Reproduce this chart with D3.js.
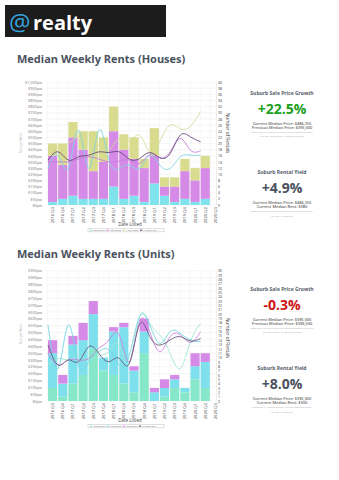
<!DOCTYPE html>
<html><head><meta charset="utf-8">
<script src="https://cdn.jsdelivr.net/npm/d3@7/dist/d3.min.js"></script>
<style>body{margin:0;background:#fff;}svg{display:block;font-family:"Open Sans",sans-serif;}</style>
</head><body><svg id="c" width="339" height="480"></svg>
<script>
// ---------- DATA ----------
const quarters = ["2016 Q3","2016 Q4","2017 Q1","2017 Q2","2017 Q3","2017 Q4","2018 Q1","2018 Q2","2018 Q3","2018 Q4","2019 Q1","2019 Q2","2019 Q3","2019 Q4","2020 Q1","2020 Q2","2020 Q3"];
const rentTicksHouses = d3.range(0, 1001, 50);
const countTicksHouses = d3.range(0, 41, 2);
const rentTicksUnits = d3.range(0, 951, 50);
const countTicksUnits = d3.range(0, 31, 1);

// Houses: rentals counted per bedroom group (bars, right axis)
const house2Bed = [1,2,3,2,2,2,6,2,3,1,7,3,1,2,1,2];
const house3Bed = [15,11,19,16,9,12,18,16,12,11,9,3,5,9,7,10];
const house4Bed = [4,7,5,6,13,8,8,5,7,3,9,3,3,4,4,4];
// Houses: median weekly rent lines (left axis)
const houseRent2Bed = [297,405,297,608,297,608,365,297,324,297,405,324,297,392,405,405];
const houseRent3Bed = [351,351,351,373,392,373,351,357,365,338,411,384,432,541,446,441];
const houseRent4Bed = [440,470,500,560,568,480,446,541,520,568,432,520,649,620,640,760];
const houseRentAll  = [365,432,365,392,405,432,427,432,373,378,427,384,419,568,554,514];

// Units
const unit1Bed = [3,1,4,6,12,7,6,4,2,11,0,1,3,2,5,3];
const unit2Bed = [8,3,9,8,8,3,10,13,5,5,2,2,2,1,3,6];
const unit3Bed = [3,2,2,4,3,0,1,1,1,3,1,2,1,0,3,2];
const unitRent1Bed = [262,311,300,330,300,330,360,408,275,615,566,480,347,238,433,566];
const unitRent2Bed = [554,238,554,262,287,360,372,262,335,615,554,420,505,493,445,433];
const unitRent3Bed = [347,262,299,299,311,384,445,481,287,578,505,360,469,481,428,505];
const unitRentAll  = [408,262,299,287,396,347,287,311,275,560,470,408,445,469,437,457];

const houseKeys = ["2 Bed","3 Bed","4+ Bed"];
const unitKeys = ["1 Bed","2 Bed","3 Bed"];

// ---------- DRAW ----------
const svg = d3.select("#c");
// header
svg.append("rect").attr("x",5).attr("y",5).attr("width",161).attr("height",32).attr("fill","#1c1c1c");
svg.append("text").attr("x",9).attr("y",31).attr("font-size",24).attr("fill","#35a2dc").text("@");
svg.append("text").attr("x",33).attr("y",30).attr("font-size",20).attr("font-weight","bold").attr("fill","#fff").text("realty");

function drawChart(o){
  const g = svg.append("g");
  g.append("text").attr("x",17).attr("y",o.titleY).attr("font-size",11).attr("font-weight","bold")
    .attr("fill","#4a5260").text(o.title);
  const x = d3.scaleBand().domain(quarters).range([47.5,220.5]).paddingInner(0.1).paddingOuter(0.05);
  const plotR = 216;
  const y = d3.scaleLinear().domain([0,o.rentMax]).range([o.bottom,o.top]);
  const yc = d3.scaleLinear().domain([0,o.countMax]).range([o.bottom,o.top]);
  // grid
  g.append("g").selectAll("line").data(o.rentTicks).join("line")
    .attr("x1",46).attr("x2",plotR).attr("y1",d=>y(d)).attr("y2",d=>y(d)).attr("stroke","#ececec").attr("stroke-width",0.5);
  g.append("g").selectAll("line").data(quarters).join("line")
    .attr("x1",d=>x(d)-0.5).attr("x2",d=>x(d)-0.5).attr("y1",o.top).attr("y2",o.bottom).attr("stroke","#f0f0f0").attr("stroke-width",0.5);
  // left axis
  const la = g.append("g").attr("transform",`translate(45,0)`)
    .call(d3.axisLeft(y).tickValues(o.rentTicks).tickSize(0).tickFormat(d=>"$"+d3.format(",")(d)+"pw"));
  la.select(".domain").remove();
  la.selectAll("text").attr("font-size",3.8).attr("fill","#777").attr("font-family","Open Sans");
  g.append("text").attr("transform",`translate(22,${o.leftTitleY}) rotate(-90)`).attr("text-anchor","middle")
    .attr("font-size",3).attr("fill","#bbb").text("Rent per Week");
  // right axis
  const ra = g.append("g").attr("transform",`translate(${plotR},0)`)
    .call(d3.axisRight(yc).tickValues(o.countTicks).tickSize(0).tickPadding(2).tickFormat(d3.format("d")));
  ra.select(".domain").attr("stroke","#ddd").attr("stroke-width",0.5);
  ra.selectAll("text").attr("font-size",3.5).attr("fill","#333").attr("font-family","Open Sans");
  g.append("text").attr("transform",`translate(225.5,${o.rightTitleY}) rotate(90)`).attr("text-anchor","middle")
    .attr("font-size",4.6).attr("fill","#333").text("Number of Rentals");
  // bars
  const rows = o.bars[0].map((_,i)=>{const r={q:quarters[i]}; o.keys.forEach((k,j)=>r[k]=o.bars[j][i]); return r;});
  const stack = d3.stack().keys(o.keys)(rows);
  stack.forEach((s,j)=>{
    g.append("g").selectAll("rect").data(s).join("rect")
      .attr("x",d=>x(d.data.q)).attr("width",x.bandwidth())
      .attr("y",d=>yc(d[1])).attr("height",d=>yc(d[0])-yc(d[1]))
      .attr("fill",o.barColors[j]);
  });
  // lines
  const line = d3.line().x((d,i)=>x(quarters[i])).y(d=>y(d)).curve(d3.curveNatural);
  o.lines.forEach((l,j)=>{
    g.append("path").datum(l).attr("d",line).attr("fill","none").attr("stroke",o.lineColors[j]).attr("stroke-width",0.9);
  });
  // x axis
  const xa = g.append("g").attr("transform",`translate(0,${o.bottom})`).call(d3.axisBottom(x).tickSize(0));
  xa.select(".domain").remove();
  xa.selectAll("text").attr("font-size",4.2).attr("fill","#444").attr("font-family","Open Sans")
    .attr("text-anchor","end").attr("transform","rotate(-90)").attr("x",-2).attr("y",0).attr("dy","0.35em");
  g.append("text").attr("x",130).attr("y",o.bottom+20.5).attr("text-anchor","middle").attr("font-size",4.5).attr("fill","#444").text("Date Listed");
  // legend
  const lg = g.append("g").attr("transform",`translate(88,${o.bottom+23.5})`);
  lg.append("rect").attr("width",76).attr("height",3.4).attr("fill","#fff").attr("stroke","#999").attr("stroke-width",0.3);
  let lx = 2;
  o.legendItems.forEach(it=>{
    lg.append("rect").attr("x",lx).attr("y",1.1).attr("width",2.2).attr("height",1.2).attr("fill",it.c);
    lx += 2.8;
    const t = lg.append("text").attr("x",lx).attr("y",2.5).attr("font-size",1.9).attr("fill","#666").text(it.t);
    lx += t.node().getComputedTextLength()+1.5;
  });
  // side panel
  const p = g.append("g").attr("text-anchor","middle");
  const cx = 282, b = o.panelY;
  p.append("text").attr("x",cx).attr("y",b).attr("font-size",5).attr("font-weight","bold").attr("fill","#555d6b").text("Suburb Sale Price Growth");
  p.append("text").attr("x",cx).attr("y",b+19).attr("font-size",14).attr("font-weight","bold").attr("fill",o.growthColor).text(o.growth);
  p.append("text").attr("x",cx).attr("y",b+29.8).attr("font-size",3.9).attr("font-weight","600").attr("fill","#666").text(o.cur);
  p.append("text").attr("x",cx).attr("y",b+34.2).attr("font-size",3.9).attr("font-weight","600").attr("fill","#666").text(o.prev);
  p.append("text").attr("x",cx).attr("y",b+38.2).attr("font-size",2.5).attr("fill","#aaa").text(o.note1[0]);
  p.append("text").attr("x",cx).attr("y",b+42.2).attr("font-size",2.5).attr("fill","#aaa").text(o.note1[1]);
  p.append("text").attr("x",cx).attr("y",b+78.5).attr("font-size",5).attr("font-weight","bold").attr("fill","#555d6b").text("Suburb Rental Yield");
  p.append("text").attr("x",cx).attr("y",b+98).attr("font-size",14).attr("font-weight","bold").attr("fill","#4a5160").text(o.yield);
  p.append("text").attr("x",cx).attr("y",b+108.8).attr("font-size",3.9).attr("font-weight","600").attr("fill","#666").text(o.cur);
  p.append("text").attr("x",cx).attr("y",b+113.2).attr("font-size",3.9).attr("font-weight","600").attr("fill","#666").text(o.rent);
  p.append("text").attr("x",cx).attr("y",b+117.2).attr("font-size",2.5).attr("fill","#aaa").text(o.note2[0]);
  p.append("text").attr("x",cx).attr("y",b+121.6).attr("font-size",2.5).attr("fill","#aaa").text(o.note2[1]);
}

drawChart({
  title:"Median Weekly Rents (Houses)", titleY:63, top:82, bottom:205, rentMax:1000, countMax:40,
  rentTicks:rentTicksHouses, countTicks:countTicksHouses, leftTitleY:143, rightTitleY:133,
  keys:houseKeys, bars:[house2Bed,house3Bed,house4Bed], barColors:["#80e2ec","#d48ae6","#d9dc8e"],
  lines:[houseRent2Bed,houseRent3Bed,houseRent4Bed,houseRentAll], lineColors:["#7fd6e4","#c67ddb","#d3dc98","#6a4a7c"],
  legendItems:[{c:"#80e2ec",t:"2 Bed Rentals"},{c:"#d48ae6",t:"3 Bed Rentals"},{c:"#d9dc8e",t:"4+ Bed Rentals"},{c:"#6a4a7c",t:"All Median Rent"}],
  panelY:95, growth:"+22.5%", growthColor:"#20a020", cur:"Current Median Price: $484,250", prev:"Previous Median Price: $395,000",
  note1:["Based on the registered house sales compared over","the last two rolling 12 month periods."],
  yield:"+4.9%", rent:"Current Median Rent: $380",
  note2:["Based on 45 registered house rentals compared over","the last 12 months."]
});
drawChart({
  title:"Median Weekly Rents (Units)", titleY:258, top:270.7, bottom:401, rentMax:950, countMax:30,
  rentTicks:rentTicksUnits, countTicks:countTicksUnits, leftTitleY:334, rightTitleY:338,
  keys:unitKeys, bars:[unit1Bed,unit2Bed,unit3Bed], barColors:["#86e8c8","#7ee0ec","#d48ae6"],
  lines:[unitRent1Bed,unitRent2Bed,unitRent3Bed,unitRentAll], lineColors:["#9fe8d2","#72d6e2","#c884dc","#6a5a7c"],
  legendItems:[{c:"#86e8c8",t:"1 Bed Rentals"},{c:"#7ee0ec",t:"2 Bed Rentals"},{c:"#d48ae6",t:"3 Bed Rentals"},{c:"#6a5a7c",t:"All Median Rent"}],
  panelY:291, growth:"-0.3%", growthColor:"#cc1515", cur:"Current Median Price: $395,000", prev:"Previous Median Price: $396,500",
  note1:["Based on the registered unit sales compared over the","last two rolling 12 month periods."],
  yield:"+8.0%", rent:"Current Median Rent: $300",
  note2:["Based on 74 registered unit rentals compared over","the last 12 months."]
});
</script></body></html>
